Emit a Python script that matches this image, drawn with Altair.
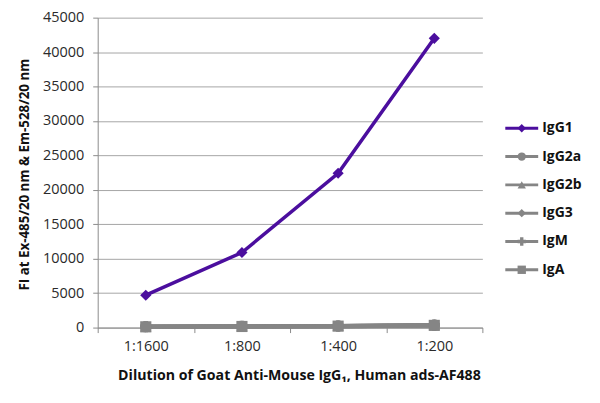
import altair as alt
import pandas as pd

dilutions = ["1:1600", "1:800", "1:400", "1:200"]
series = ["IgG1", "IgG2a", "IgG2b", "IgG3", "IgM", "IgA"]
igg1 = [4700, 10900, 22400, 42000]
igg2a = [150, 200, 250, 400]
igg2b = [120, 180, 230, 350]
igg3 = [100, 150, 200, 300]
igm = [130, 170, 220, 330]
iga = [110, 160, 210, 320]

values = {"IgG1": igg1, "IgG2a": igg2a, "IgG2b": igg2b, "IgG3": igg3, "IgM": igm, "IgA": iga}
colors = ["#4B0E9E", "#858585", "#858585", "#858585", "#858585", "#858585"]
shapes = ["diamond", "circle", "triangle-up", "diamond", "cross", "square"]
widths = [3.5, 4.5, 4.5, 4.5, 4.5, 4.5]

rows = []
for s in series:
    for i, (d, v) in enumerate(zip(dilutions, values[s])):
        rows.append({"series": s, "dilution": d, "idx": i, "value": v})
df = pd.DataFrame(rows)
leg = pd.DataFrame({"series": series})

FONT = "Open Sans"

xenc = alt.X("dilution:N", sort=dilutions,
             scale=alt.Scale(type="band", domain=dilutions, paddingInner=0, paddingOuter=0),
             bandPosition=0.5,
             axis=alt.Axis(title="Dilution of Goat Anti-Mouse IgG\u2081, Human ads-AF488",
                           labelAngle=0, tickBand="extent", ticks=True, tickSize=5,
                           domainColor="#8c8c8c", tickColor="#8c8c8c",
                           labelFont=FONT, labelFontSize=14.5, labelColor="#2a2a2a", labelPadding=7,
                           titleFont=FONT, titleFontSize=14.2, titleFontWeight="bold", titleColor="#111111",
                           titleAnchor="start", titleAlign="left", titleX=20, titleY=52,
                           titleBaseline="alphabetic", grid=False))
yenc = alt.Y("value:Q", scale=alt.Scale(domain=[0, 45000], nice=False),
             axis=alt.Axis(title="FI at Ex-485/20 nm & Em-528/20 nm", values=list(range(0, 45001, 5000)),
                           format="d", tickSize=5, domainColor="#8c8c8c", tickColor="#8c8c8c",
                           gridColor="#a6a6a6", grid=True,
                           labelFont=FONT, labelFontSize=14.5, labelColor="#2a2a2a", labelPadding=9,
                           titleFont=FONT, titleFontSize=13.4, titleFontWeight="bold", titleColor="#111111",
                           titleX=-73, titleY=157, titleAngle=-90, titleBaseline="middle", titleAlign="center"))
cenc = alt.Color("series:N", scale=alt.Scale(domain=series, range=colors), legend=None)
senc = alt.Shape("series:N", scale=alt.Scale(domain=series, range=shapes), legend=None)
wenc = alt.StrokeWidth("series:N", scale=alt.Scale(domain=series, range=widths), legend=None)

base = alt.Chart(df)

lines = base.mark_line().encode(x=xenc, y=yenc, color=cenc, strokeWidth=wenc, detail="series:N",
                                order=alt.Order("idx:Q"))
points = base.mark_point(filled=True, size=125, opacity=1).encode(x=xenc, y=yenc, color=cenc, shape=senc)
plot = alt.layer(lines, points)

ly = alt.Y("series:N", scale=alt.Scale(domain=series, range=[111, 253], type="point", padding=0), axis=None)
lc = alt.Color("series:N", scale=alt.Scale(domain=series, range=colors), legend=None)
legend_rules = alt.Chart(leg).mark_rule(strokeWidth=3).encode(x=alt.value(409), x2=alt.value(442), y=ly, color=lc)
legend_pts = alt.Chart(leg).mark_point(filled=True, size=70, opacity=1).encode(
    x=alt.value(425.5), y=ly, color=lc,
    shape=alt.Shape("series:N", scale=alt.Scale(domain=series, range=shapes), legend=None))
legend_txt = alt.Chart(leg).mark_text(align="left", baseline="middle", font=FONT, fontSize=14,
                                      fontWeight="bold", color="#111111").encode(
    x=alt.value(446), y=ly, text="series:N")

legend_layer = alt.layer(legend_rules, legend_pts, legend_txt)

chart = alt.layer(plot, legend_layer).resolve_scale(y="independent").properties(
    width=386, height=311,
    autosize=alt.AutoSizeParams(type="none"),
    padding={"left": 90, "top": 9, "right": 110, "bottom": 75},
    background="white",
).configure_view(stroke=None)

chart.save("out.html", embed_options={"renderer": "svg", "actions": False})
